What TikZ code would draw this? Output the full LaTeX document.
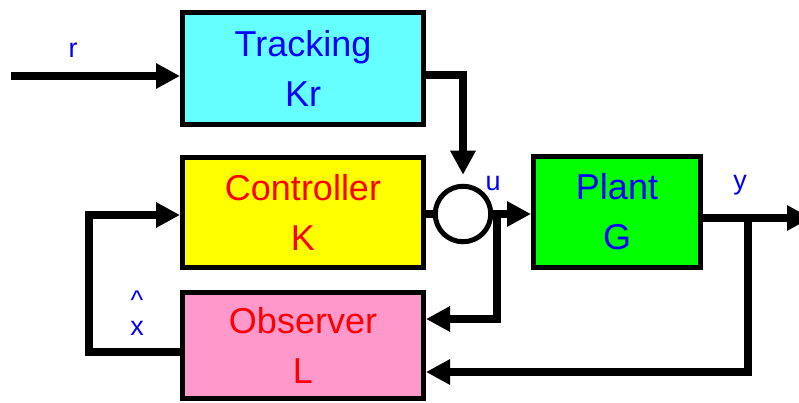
\documentclass[tikz,border=0pt]{standalone}
\usepackage{fontspec}
\setmainfont{Liberation Sans}
\usetikzlibrary{arrows.meta,calc}
\definecolor{trackc}{HTML}{66FFFF}
\definecolor{ctrlc}{HTML}{FFFF00}
\definecolor{plantc}{HTML}{00FF00}
\definecolor{obsc}{HTML}{FF99CC}
\definecolor{tblue}{HTML}{0000FF}
\definecolor{tred}{HTML}{FF0000}
\begin{document}
\begin{tikzpicture}[x=1pt,y=-1pt,
  blockbox/.style={draw=black,line width=5pt,minimum width=241pt,align=center,
    font=\fontsize{36}{50}\selectfont,inner sep=0pt},
  conn/.style={line width=8pt,line join=miter,-{Triangle[length=24pt,width=24pt]}},
  plainconn/.style={line width=8pt,line join=miter},
  lbl/.style={text=tblue,font=\fontsize{27}{26}\selectfont,inner sep=0pt,align=center}]
\useasboundingbox (0,0) rectangle (799,403);
\node[blockbox,fill=trackc,text=tblue,minimum height=112pt] (track) at (303,68.5) {Tracking\\Kr};
\node[blockbox,fill=ctrlc,text=tred,minimum height=110pt] (ctrl) at (303,212.5) {Controller\\K};
\node[blockbox,fill=obsc,text=tred,minimum height=106pt] (obs) at (303,345.5) {Observer\\L};
\node[blockbox,fill=plantc,text=tblue,minimum width=167pt,minimum height=111pt] (plant) at (617,212) {Plant\\G};
\node[draw=black,line width=5pt,fill=white,circle,minimum size=55.5pt,inner sep=0pt] (sum) at (463,214) {};
% coordinates
\coordinate (rin) at (11,76);
\coordinate (ttop) at (463,75);
\coordinate (uj) at (497,214);
\coordinate (ouy) at (0,319);
\coordinate (yout) at (811,218);
\coordinate (yj) at (748,218);
\coordinate (oyy) at (0,372);
\coordinate (xy) at (0,352);
\coordinate (lc) at (89,215);
% connectors
\draw[conn] (rin) -- (rin -| track.west);
\draw[conn,shorten >=9pt] (track.east |- ttop) -- (ttop) -- (sum.north);
\draw[plainconn] (sum.west -| ctrl.east) -- (sum.west);
\draw[conn] (sum.east) -- (sum.east -| plant.west);
\draw[conn] (uj) |- (obs.east |- ouy);
\draw[conn] (plant.east |- yout) -- (yout);
\draw[conn] (yj) |- (obs.east |- oyy);
\draw[conn] (obs.west |- xy) -| (lc) -- (ctrl.west |- lc);
% labels
\node[lbl] (rl) at (73,50) {r};
\node[lbl] (ul) at (493,184) {u};
\node[lbl] (yl) at (740,185) {y};
\node[lbl] (xl) at (137,313) {\textasciicircum\\x};
\end{tikzpicture}
\end{document}
